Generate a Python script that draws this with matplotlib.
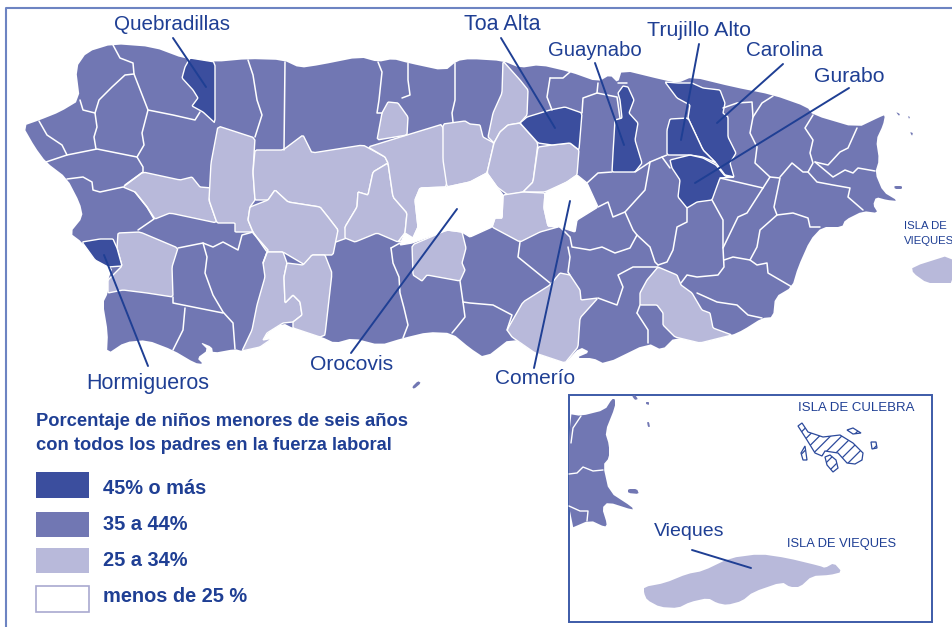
import matplotlib
matplotlib.use("Agg")
import matplotlib.pyplot as plt
from matplotlib.patches import Polygon, Rectangle

plt.rcParams["font.family"] = ["Liberation Sans", "DejaVu Sans"]
plt.rcParams["hatch.linewidth"] = 0.9

DARK = "#3b4e9e"
MID = "#7177b3"
LIGHT = "#b8b9da"
TEXT = "#1f3f94"
FRAME = "#6d84c2"

# map outline (pixel coordinates)
island = [(113,44),(153,47),(185,59),(215,62),(248,59),(283,60),(300,68),(320,65),(360,57),(378,62),(393,59),(408,63),
          (445,71),(457,61),(470,59),(503,61),(520,68),(540,65),(570,72),(598,82),(610,75),(618,83),(622,70),(663,80),
          (678,83),(692,77),(733,87),(773,95),(807,107),(813,115),(857,128),(880,117),(885,115),(883,125),(876,140),
          (879,160),(875,173),(883,192),(898,201),(887,200),(876,197),(873,205),(878,213),(863,211),(845,220),(842,227),
          (822,227),(810,240),(798,267),(792,287),(775,297),(773,317),(762,318),(743,330),(732,335),(700,343),(675,337),
          (662,350),(648,343),(605,364),(593,358),(576,358),(590,352),(580,347),(565,363),(535,353),(512,337),(485,358),
          (470,348),(452,333),(428,332),(403,338),(380,345),(353,338),(335,343),(322,337),(293,328),(283,323),(267,333),
          (263,340),(273,338),(260,347),(242,351),(235,349),(213,353),(212,347),(200,342),(208,350),(197,358),(203,364),
          (195,363),(173,350),(147,340),(125,342),(107,354),(108,333),(103,303),(108,293),(108,280),(113,267),(95,260),
          (82,242),(70,233),(83,217),(80,203),(67,178),(46,162),(35,147),(23,126),(40,120),(60,112),(80,100),(76,68),(87,52)]

# municipios 25 a 34%
light_regions = [
    [(123,187),(143,172),(180,180),(192,177),(200,187),(212,188),(209,200),(217,223),(170,213),(155,219),(147,207),(135,192)],
    [(218,126),(255,138),(253,172),(255,200),(250,207),(248,220),(253,232),(235,232),(235,223),(217,223),(209,200),(211,163)],
    [(255,150),(283,150),(303,135),(312,153),(363,145),(385,157),(388,163),(373,172),(368,195),(358,192),(357,207),(345,227),
     (347,238),(333,243),(338,230),(328,217),(320,207),(288,202),(275,190),(268,200),(255,200),(253,172)],
    [(250,207),(268,200),(275,190),(288,202),(320,207),(328,217),(338,230),(333,255),(312,255),(305,265),(283,252),(267,252),
     (253,232),(248,220)],
    [(373,172),(388,163),(393,197),(407,213),(405,233),(398,242),(377,233),(355,242),(345,238),(345,227),(357,207),(358,192),(368,195)],
    [(368,147),(407,135),(443,124),(447,187),(420,188),(415,200),(418,227),(413,238),(398,242),(405,233),(407,213),(393,197),(388,163),(385,157)],
    [(443,124),(465,121),(470,124),(480,125),(483,137),(494,143),(487,173),(470,182),(447,187),(443,160)],
    [(503,61),(520,80),(528,90),(527,115),(520,123),(508,125),(500,132),(494,143),(488,137),(493,113),(502,93)],
    [(388,102),(398,103),(408,117),(407,135),(377,140),(382,113)],
    [(508,125),(520,123),(538,143),(533,182),(523,192),(508,195),(497,187),(487,173),(494,143),(500,132)],
    [(538,147),(552,145),(570,143),(579,150),(577,175),(567,182),(545,192),(523,192),(533,182)],
    [(503,195),(523,192),(545,193),(544,208),(548,226),(558,227),(540,232),(520,242),(492,227),(495,218),(502,218)],
    [(412,245),(447,230),(462,232),(466,248),(462,263),(465,270),(460,281),(427,275),(422,281),(413,275)],
    [(118,233),(140,232),(178,248),(172,267),(173,297),(147,293),(123,290),(108,293),(108,280),(122,266),(117,248)],
    [(267,252),(283,252),(287,263),(284,277),(285,303),(293,295),(300,302),(302,315),(293,322),(283,323),(267,333),(263,340),
     (273,338),(260,347),(242,351),(252,330),(257,305),(265,277),(263,263)],
    [(287,263),(303,265),(312,255),(325,255),(332,273),(325,335),(320,337),(293,328),(293,322),(302,315),(300,302),(293,295),
     (285,303),(284,277)],
    [(560,273),(570,275),(580,290),(581,300),(598,298),(580,318),(578,347),(565,363),(535,353),(512,337),(507,330),(523,302),(550,285)],
    [(658,267),(677,275),(681,285),(692,293),(702,310),(710,313),(713,328),(732,335),(700,343),(675,337),(663,325),(663,313),
     (657,305),(640,305),(640,293),(647,280)],
]

# municipios 45% o mas
dark_regions = [
    [(190,58),(215,62),(215,123),(203,112),(192,106),(198,98),(193,90),(182,78),(185,67)],
    [(82,242),(100,239),(113,239),(117,248),(122,266),(108,267),(95,260)],
    [(520,123),(527,117),(550,110),(565,107),(582,113),(579,150),(570,143),(552,145),(538,143)],
    [(623,86),(628,87),(634,100),(629,113),(638,123),(635,140),(642,163),(635,172),(612,172),(613,153),(615,120),(622,118),(620,100),(618,93)],
    [(665,82),(678,83),(692,83),(703,88),(720,90),(725,103),(723,113),(728,117),(728,137),(736,153),(730,163),(734,177),(725,175),
     (716,163),(703,150),(688,118),(690,105),(677,98)],
    [(670,119),(688,118),(703,150),(716,163),(703,157),(690,155),(667,155),(667,130)],
    [(670,160),(690,155),(703,158),(716,165),(725,176),(734,177),(720,178),(712,200),(697,202),(687,208),(678,197),(680,180),(672,168)],
]

# municipios menos de 25%
white_regions = [
    [(577,175),(587,183),(598,207),(577,220),(575,232),(560,227),(548,226),(544,208),(545,193),(567,182)],
    [(420,188),(447,187),(470,182),(487,173),(497,187),(503,195),(502,218),(495,218),(492,227),(470,237),(462,232),(447,230),
     (412,243),(400,245),(405,233),(413,238),(418,227),(415,200)],
]

# limits between municipios of the same colour
boundaries = [
    [(113,45),(120,58),(133,63),(134,74),(148,110),(173,115),(195,120),(200,112)],
    [(134,74),(125,75),(112,87),(99,100),(95,113),(83,110),(80,100)],
    [(95,113),(97,127),(94,137),(96,149)],
    [(148,110),(142,133),(144,145),(137,157),(143,167),(143,172),(125,185)],
    [(46,162),(67,155),(97,149),(137,157)],
    [(39,121),(47,135),(62,145),(67,155)],
    [(67,179),(83,177),(92,182),(93,190),(100,192),(123,187)],
    [(135,192),(147,207),(154,219),(138,230)],
    [(178,248),(203,243),(213,247),(223,242),(238,250),(242,235),(253,232)],
    [(203,243),(207,257),(205,273),(213,295),(223,312),(233,323),(235,349)],
    [(253,233),(268,250),(263,263)],
    [(173,297),(173,303),(223,313)],
    [(185,308),(183,330),(173,350)],
    [(391,248),(393,263),(399,277),(400,293),(404,308),(408,325),(403,338)],
    [(391,248),(400,243)],
    [(460,281),(463,302),(465,317),(457,327),(452,333)],
    [(463,302),(470,303),(493,305),(512,315),(507,330)],
    [(248,60),(253,75),(257,100),(262,115),(255,137)],
    [(285,62),(284,150)],
    [(378,62),(382,72),(379,100),(377,113),(382,113)],
    [(408,63),(408,80),(410,95),(402,98)],
    [(455,63),(455,100),(452,113),(453,122)],
    [(550,78),(563,78),(570,72)],
    [(550,78),(547,97),(552,110)],
    [(598,83),(597,93),(583,98),(582,113)],
    [(597,93),(617,97),(620,118)],
    [(618,83),(627,83)],
    [(587,183),(598,173),(612,172)],
    [(635,172),(650,162),(662,157),(667,155)],
    [(650,162),(645,190),(625,212),(613,217),(608,202),(598,207)],
    [(625,212),(633,230),(637,235),(650,247),(655,262),(658,265)],
    [(662,157),(670,168)],
    [(687,208),(687,222),(677,227),(673,250),(667,262),(658,265)],
    [(712,200),(723,220),(723,248),(724,267),(718,275),(697,277),(687,275),(681,283)],
    [(720,178),(763,188),(747,213),(738,217),(723,248)],
    [(763,188),(770,177),(755,163),(757,147),(750,133),(753,117),(762,103),(773,96)],
    [(723,108),(737,103),(752,102),(753,117)],
    [(770,177),(780,178),(774,207),(777,215),(760,230),(757,247),(750,260),(733,257),(724,260)],
    [(780,177),(792,163),(803,172),(808,172),(817,182),(833,185),(850,188),(848,197),(863,210)],
    [(777,215),(793,213),(808,218),(810,227),(820,227)],
    [(750,260),(757,265),(767,263),(768,273),(792,287)],
    [(697,293),(717,302),(737,305),(748,315),(762,318)],
    [(813,115),(805,128),(813,140),(810,153),(813,163),(808,172)],
    [(857,128),(848,148),(840,152),(828,165),(815,162)],
    [(815,162),(833,177),(845,170),(853,173),(858,168),(875,171)],
    [(568,247),(570,257),(568,272),(570,275)],
    [(560,227),(570,237),(572,247),(590,250),(602,247),(615,253),(630,248),(637,235)],
    [(658,267),(633,267),(618,275),(623,287),(617,305),(598,298)],
    [(637,313),(648,330),(648,343)],
    [(637,313),(640,305)],
    [(520,242),(518,257),(550,283)],
]

islets = [
    [(412,387),(418,381),(421,383),(414,389)],
    [(896,112),(900,114),(899,116)],
    [(908,116),(910,117),(909,119)],
    [(910,132),(913,133),(912,136)],
    [(894,186),(902,186),(902,189),(895,189)],
]

# Vieques as it shows at the right edge of the main map
vieques_main = [(912,267),(953,254),(953,283),(942,283),(927,283),(913,273)]

# inset
inset_pr = [(569,414),(581,416),(605,410),(612,399),(615,399),(615,407),(605,432),(609,445),(609,458),(603,465),(609,492),
            (632,507),(633,510),(608,502),(602,508),(607,524),(605,527),(590,520),(569,529)]
inset_lines = [
    [(581,416),(573,428),(571,443)],
    [(569,474),(577,473),(583,467),(593,471),(603,470)],
    [(569,506),(580,511),(588,511),(587,521)],
]
inset_islets = [
    [(628,489),(637,489),(639,494),(628,493)],
    [(632,396),(635,395),(638,399),(635,400)],
    [(646,402),(649,402),(649,405),(646,404)],
    [(647,422),(649,422),(650,427),(648,427)],
]
vieques_inset = [(644,587),(665,583),(687,574),(703,571),(730,558),(760,554),(787,558),(820,566),(825,568),(834,563),(842,572),
                 (830,575),(812,576),(800,587),(790,587),(782,582),(753,592),(742,601),(727,605),(717,603),(708,598),(690,602),
                 (678,608),(660,607),(647,600),(644,593)]
culebra = [
    [(798,426),(802,423),(808,432),(823,437),(840,435),(853,443),(863,453),(862,460),(855,464),(847,463),(838,453),(825,451),(822,456),(815,453),(807,440)],
    [(825,457),(830,455),(836,460),(838,468),(833,472),(827,465)],
    [(801,453),(805,446),(807,460),(803,460)],
    [(847,430),(853,428),(861,433),(853,434)],
    [(871,442),(876,442),(877,448),(872,449)],
]

# labels with their leader lines
leader_names = ["Quebradillas", "Hormigueros", "Orocovis", "Toa Alta", "Guaynabo", "Trujillo Alto", "Carolina", "Gurabo", "Comerío", "Vieques"]
leader_text_x = [172, 148, 352, 502, 595, 699, 784, 849, 535, 689]
leader_text_y = [25, 383, 364, 25, 50, 30, 51, 76, 379, 532]
leader_size = [14.9, 15.5, 15.2, 15.5, 14.6, 15.4, 14.9, 15.2, 15, 14]
leader_start = [(173,38),(148,366),(351,353),(501,38),(595,63),(699,44),(783,64),(849,88),(534,368),(692,550)]
leader_end = [(206,87),(104,255),(457,209),(555,128),(624,145),(681,140),(717,123),(695,183),(570,201),(751,568)]

legend_labels = ["45% o más", "35 a 44%", "25 a 34%", "menos de 25 %"]
legend_colors = [DARK, MID, LIGHT, "white"]
legend_top = [472, 512, 548, 586]
legend_height = [26, 25, 25, 26]
legend_text_y = [489, 524, 560, 596]

fig = plt.figure(figsize=(9.53, 6.27), dpi=100)
ax = fig.add_axes([0, 0, 1, 1])
ax.set_xlim(0, 953)
ax.set_ylim(627, 0)
ax.axis("off")


def soften(pts, cut=0.2):
    # round the corners of a traced outline a little
    out = []
    n = len(pts)
    for i in range(n):
        x0, y0 = pts[i]
        x1, y1 = pts[(i + 1) % n]
        out.append((x0 + (x1 - x0) * cut, y0 + (y1 - y0) * cut))
        out.append((x1 - (x1 - x0) * cut, y1 - (y1 - y0) * cut))
    return out


def add_poly(pts, color, edge="none", lw=0, z=2, cut=0.2):
    ax.add_patch(Polygon(soften(pts, cut), closed=True, facecolor=color, edgecolor=edge, linewidth=lw, joinstyle="round", zorder=z))


def add_line(pts, color="white", lw=1.1, z=3):
    ax.plot([p[0] for p in pts], [p[1] for p in pts], color=color, lw=lw, zorder=z, solid_joinstyle="round", solid_capstyle="round")


# frame
ax.plot([953, 6.5, 6.5], [8, 8, 627], color=FRAME, lw=1.5, zorder=1)

add_poly(island, MID)
for pts in light_regions:
    add_poly(pts, LIGHT, "white", 1.0, cut=0.06)
for pts in dark_regions:
    add_poly(pts, DARK, "white", 1.0, cut=0.06)
for pts in white_regions:
    add_poly(pts, "white", "white", 1.0, cut=0.06)
for pts in boundaries:
    add_line(pts)
for pts in islets:
    add_poly(pts, MID)
add_poly(vieques_main, LIGHT)

# inset box
ax.add_patch(Rectangle((569.5, 394.5), 362.5, 227.5, facecolor="white", edgecolor="#3d5ba8", linewidth=1.4, zorder=4))
add_poly(inset_pr, MID, z=5)
for pts in inset_lines:
    add_line(pts, lw=1.0, z=6)
for pts in inset_islets:
    add_poly(pts, MID, z=5)
add_poly(vieques_inset, LIGHT, z=5)
for pts in culebra:
    ax.add_patch(Polygon(pts, closed=True, facecolor="white", edgecolor="#2c4a9c", linewidth=0.9, hatch="///", zorder=5))

for name, tx, ty, fs, start, end in zip(leader_names, leader_text_x, leader_text_y, leader_size, leader_start, leader_end):
    ax.text(tx, ty, name, color=TEXT, fontsize=fs, ha="center", va="center", zorder=8)
    add_line([start, end], color=TEXT, lw=1.4, z=7)

ax.text(904, 226, "ISLA DE", color=TEXT, fontsize=8.2, va="center", zorder=8)
ax.text(904, 241, "VIEQUES", color=TEXT, fontsize=8.2, va="center", zorder=8)
ax.text(856, 408, "ISLA DE CULEBRA", color=TEXT, fontsize=9.5, ha="center", va="center", zorder=8)
ax.text(842, 544, "ISLA DE VIEQUES", color=TEXT, fontsize=9.3, ha="center", va="center", zorder=8)

# legend
ax.text(36, 421, "Porcentaje de niños menores de seis años", color=TEXT, fontsize=13.2, fontweight="bold", va="center")
ax.text(36, 446, "con todos los padres en la fuerza laboral", color=TEXT, fontsize=13.2, fontweight="bold", va="center")
for label, color, top, h, ty in zip(legend_labels, legend_colors, legend_top, legend_height, legend_text_y):
    edge = "#a9a9d0" if color == "white" else "none"
    ax.add_patch(Rectangle((36, top), 53, h, facecolor=color, edgecolor=edge, linewidth=1.2))
    ax.text(103, ty, label, color=TEXT, fontsize=14.4, fontweight="bold", va="center")

fig.savefig("out.png", dpi=100)
